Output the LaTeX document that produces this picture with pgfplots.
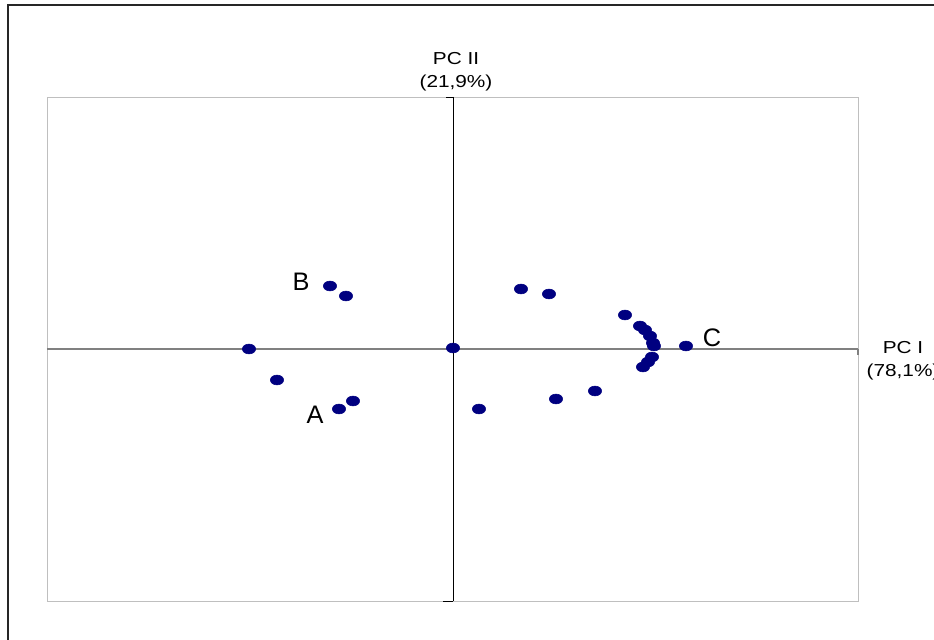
\documentclass[border=0pt]{standalone}
\usepackage{pgfplots}
\pgfplotsset{compat=1.18}
\usepackage{fontspec}
\setmainfont{Liberation Sans}
\definecolor{navy}{HTML}{000080}
\begin{document}
\begin{tikzpicture}
\useasboundingbox (0,0) rectangle (700.5pt,479.25pt);
% outer frame (runs off the right and bottom edges)
\draw[black!85, line width=1.1pt] (6pt,-10pt) -- (6pt,475.5pt) -- (720pt,475.5pt);
\begin{axis}[
  at={(35.25pt,28.5pt)}, anchor=south west,
  scale only axis, width=608.25pt, height=378pt,
  xmin=-406, xmax=405, ymin=-252, ymax=252,
  xtick=\empty, ytick=\empty,
  axis line style={draw=black!25, line width=0.7pt},
  clip=false,
]
% axis lines
\draw[black!50, line width=1.4pt] (axis cs:-406,0) -- (axis cs:405,0);
\draw[black!50, line width=0.8pt] (axis cs:405,0) -- (axis cs:405,-6);
\draw[black, line width=0.6pt] (axis cs:0,252) -- (axis cs:0,-252);
\draw[black, line width=0.6pt] (axis cs:-7,252) -- (axis cs:0,252);
\draw[black, line width=0.6pt] (axis cs:-10,-252) -- (axis cs:0,-252);
\addplot[only marks, mark=*, mark size=3.7pt, mark options={xscale=1.35, fill=navy, draw=navy}]
coordinates {
(-123,63) (-107,53) (-204,0) (-176,-31) (-114,-60) (-100,-52)
(0,1) (26,-60) (68,60) (96,55) (103,-50) (142,-42) (172,34)
(187,23) (192,19) (197,13) (200,6) (201,3)
(199,-8) (195,-13) (190,-18) (233,3)
};
\node[font=\fontsize{19}{21}\selectfont] at (axis cs:-152,67) {B};
\node[font=\fontsize{19}{21}\selectfont] at (axis cs:-138,-66) {A};
\node[font=\fontsize{19}{21}\selectfont] at (axis cs:259,11) {C};
\node[font=\fontsize{13}{17}\selectfont, align=center, xscale=1.2] at (axis cs:3,277) {PC II\\(21,9\%)};
\node[font=\fontsize{13}{17}\selectfont, align=center, xscale=1.2] at (axis cs:450,-12) {PC I\\(78,1\%)};
\end{axis}
\end{tikzpicture}
\end{document}
